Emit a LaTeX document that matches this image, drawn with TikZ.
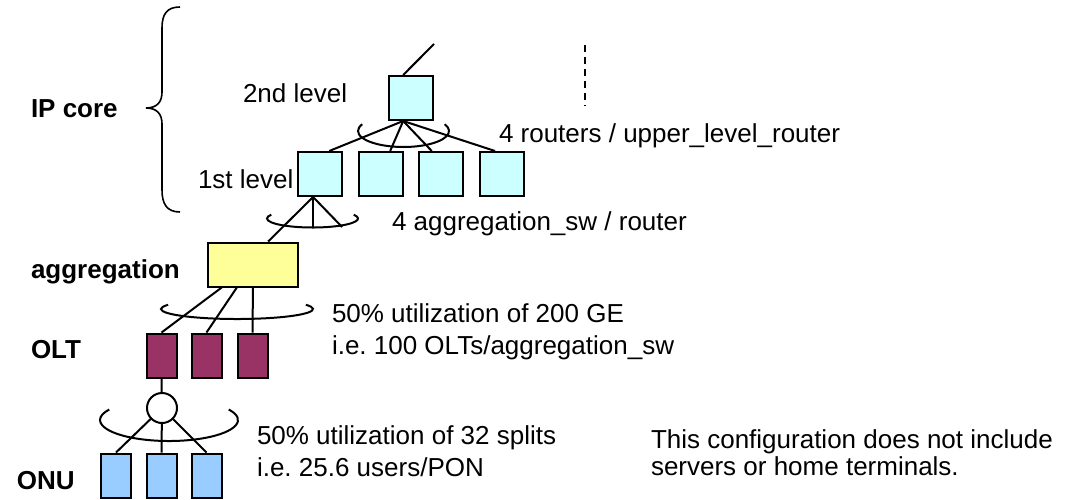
\documentclass[tikz,border=0pt]{standalone}
\usepackage{fontspec}
\setmainfont{Liberation Sans}
\usetikzlibrary{calc}

\definecolor{routerfill}{HTML}{CCFFFF}
\definecolor{aggfill}{HTML}{FFFF99}
\definecolor{oltfill}{HTML}{993366}
\definecolor{onufill}{HTML}{99CCFF}

\begin{document}
\frenchspacing
\begin{tikzpicture}[x=0.5pt,y=-0.5pt,line width=1pt,
  box/.style={draw,rectangle,inner sep=0pt,line width=1pt},
  router/.style={box,fill=routerfill,minimum width=22pt,minimum height=22pt},
  aggbox/.style={box,fill=aggfill,minimum width=45pt,minimum height=22pt},
  oltbox/.style={box,fill=oltfill,minimum width=15pt,minimum height=22pt},
  onubox/.style={box,fill=onufill,minimum width=15pt,minimum height=22pt},
  splitter/.style={draw,circle,fill=white,inner sep=0pt,minimum size=15pt,line width=1pt},
  link/.style={line width=1pt},
  ring/.style={line width=1pt},
  lbl/.style={anchor=base west,inner sep=0pt,align=left,font=\fontsize{13}{16}\selectfont},
  tier/.style={anchor=base west,inner sep=0pt,font=\fontsize{13}{16}\selectfont\bfseries},
]
\useasboundingbox (0,0) rectangle (1079,499);

% ---- IP core: second and first level routers
\node[router] (r2)  at (411,98) {};
\node[router] (r1a) at (320,174) {};
\node[router] (r1b) at (380.5,174) {};
\node[router] (r1c) at (440.5,174) {};
\node[router] (r1d) at (501.5,174) {};

% ---- aggregation switch, OLTs, splitter, ONUs
\node[aggbox] (agg) at (252.5,264.5) {};
\node[oltbox] (olt1) at (161.5,355.5) {};
\node[oltbox] (olt2) at (206.5,355.5) {};
\node[oltbox] (olt3) at (252.5,355.5) {};
\node[splitter] (spl) at (162,408) {};
\node[onubox] (onu1) at (116,475.5) {};
\node[onubox] (onu2) at (161.5,475.5) {};
\node[onubox] (onu3) at (206.5,475.5) {};

% ---- uplink of the 2nd level router and the elided continuation
\coordinate (r2top) at ($(r2.north west)!0.33!(r2.north east)$);
\coordinate (uplink) at (434,44);
\draw[link] (r2top) -- (uplink);
\coordinate (dashtop) at (585,45);
\coordinate (dashbot) at (585,106);
\draw[link,dash pattern=on 3.5pt off 2.5pt] (dashtop) -- (dashbot);

% ---- 2nd level to 1st level
\coordinate (r2bot) at ($(r2.south west)!0.33!(r2.south east)$);
\draw[link] (r2bot) -- ($(r1a.north west)!0.70!(r1a.north east)$);
\draw[link] (r2bot) -- ($(r1b.north west)!0.71!(r1b.north east)$);
\draw[link] (r2bot) -- ($(r1c.north west)!0.31!(r1c.north east)$);
\draw[link] (r2bot) -- ($(r1d.north west)!0.36!(r1d.north east)$);
\draw[ring] ([shift={(-25:45.5 and 16)}]403.5,131)
  arc[start angle=-25,end angle=205,x radius=45.5,y radius=16];

% ---- 1st level to aggregation switches
\coordinate (r1abot) at ($(r1a.south west)!0.35!(r1a.south east)$);
\coordinate (swmid) at ($(r1abot)+(0,30)$);
\coordinate (swright) at ($(r1abot)+(29,30)$);
\draw[link] (r1abot) -- ($(agg.north west)!0.67!(agg.north east)$);
\draw[link] (r1abot) -- (swmid);
\draw[link] (r1abot) -- (swright);
\draw[ring] ([shift={(-25:45.5 and 9)}]312.5,218.5)
  arc[start angle=-25,end angle=205,x radius=45.5,y radius=9];

% ---- aggregation switch to OLTs
\draw[link] ($(agg.south west)!0.165!(agg.south east)$) -- (olt1.north);
\draw[link] ($(agg.south west)!0.33!(agg.south east)$) -- (olt2.north);
\draw[link] ($(agg.south west)!0.505!(agg.south east)$) -- (olt3.north);
\draw[ring] ([shift={(-25:76 and 10)}]237,309)
  arc[start angle=-25,end angle=205,x radius=76,y radius=10];

% ---- PON: OLT, splitter, ONUs
\draw[link] (olt1.south) -- (spl);
\draw[link] (spl) -- (onu1.north);
\draw[link] (spl) -- (onu2.north);
\draw[link] (spl) -- (onu3.north);
\draw[ring] ([shift={(-30:69 and 21)}]169,420)
  arc[start angle=-30,end angle=210,x radius=69,y radius=21];

% ---- brace spanning the IP core
\draw[line width=0.8pt] (180,7) .. controls (167,7) and (162,14) .. (162,28)
  -- (162,92) .. controls (162,102) and (157,108) .. (146,108)
  .. controls (157,108) and (162,114) .. (162,124)
  -- (162,190) .. controls (162,204) and (167,212) .. (180,212);

% ---- tier names
\node[tier] (tcore) at (30,117) {IP core};
\node[tier] (tagg)  at (30,278) {aggregation};
\node[tier] (tolt)  at (30,358) {OLT};
\node[tier] (tonu)  at (16,489) {ONU};

% ---- annotations (multi-line nodes are placed by their last baseline)
\node[lbl] (l2) at (242,102) {2nd level};
\node[lbl] (l1) at (197,188) {1st level};
\node[lbl] (nrouters) at (498,142) {4 routers / upper\_level\_router};
\node[lbl] (nagg) at (391,230) {4 aggregation\_sw / router};
\node[lbl] (nolt) at (331,354) {50\% utilization of 200 GE\\i.e. 100 OLTs/aggregation\_sw};
\node[lbl] (nonu) at (256,476) {50\% utilization of 32 splits\\i.e. 25.6 users/PON};
\node[lbl,font=\fontsize{13}{13.3}\selectfont] (note) at (650,475)
  {This configuration does not include\\servers or home terminals.};
\end{tikzpicture}
\end{document}
